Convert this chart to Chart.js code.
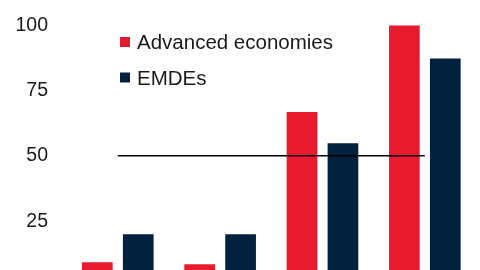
<!DOCTYPE html>
<html>
<head>
<meta charset="utf-8">
<script src="https://cdn.jsdelivr.net/npm/chart.js@4"></script>
<style>
  html, body { margin: 0; padding: 0; background: #fff; overflow: hidden; }
  #wrap { width: 480px; height: 270px; overflow: hidden; }
</style>
</head>
<body>
<div id="wrap"><canvas id="chart" width="480" height="300"></canvas></div>
<script>
// Data (x labels are cropped out of the reference)
const categories = ['Group 1', 'Group 2', 'Group 3', 'Group 4'];
const advanced = [9.3, 8.5, 66.8, 100];
const emdes = [20, 20, 54.8, 87.3];
const threshold = [50, 50, 50, 50];
const yTicks = [0, 25, 50, 75, 100];

const RED = '#E81B2E';
const NAVY = '#01213F';
const FONT = '"Liberation Sans", Arial, sans-serif';

// Legend drawn on the canvas top-left of the plot
const legendPlugin = {
  id: 'cornerLegend',
  afterDraw(chart) {
    const ctx = chart.ctx;
    const items = [
      { label: 'Advanced economies', color: RED, y: 49 },
      { label: 'EMDEs', color: NAVY, y: 84.5 }
    ];
    ctx.save();
    ctx.font = '20.5px ' + FONT;
    ctx.textBaseline = 'alphabetic';
    items.forEach(function(it) {
      ctx.fillStyle = it.color;
      ctx.fillRect(120, it.y - 12, 10, 10);
      ctx.fillStyle = '#1a1a1a';
      ctx.fillText(it.label, 137, it.y);
    });
    ctx.restore();
  }
};

new Chart(document.getElementById('chart'), {
  type: 'bar',
  data: {
    labels: categories,
    datasets: [
      {
        type: 'line',
        label: 'Threshold',
        data: threshold,
        borderColor: '#000',
        borderWidth: 1.5,
        pointRadius: 0,
        fill: false,
        order: 0
      },
      {
        label: 'Advanced economies',
        data: advanced,
        backgroundColor: RED,
        categoryPercentage: 0.8,
        barPercentage: 0.75,
        order: 1
      },
      {
        label: 'EMDEs',
        data: emdes,
        backgroundColor: NAVY,
        categoryPercentage: 0.8,
        barPercentage: 0.75,
        order: 1
      }
    ]
  },
  options: {
    responsive: false,
    animation: false,
    devicePixelRatio: 1,
    layout: { padding: { top: 25.2, right: 4, bottom: 13.5, left: 0 } },
    plugins: {
      legend: { display: false },
      tooltip: { enabled: false }
    },
    scales: {
      x: {
        display: false
      },
      y: {
        min: 0,
        max: 100,
        afterBuildTicks: function(scale) {
          scale.ticks = yTicks.map(function(v) { return { value: v }; });
        },
        afterFit: function(scale) {
          scale.width = 66.6;
          scale.paddingTop = 0;
          scale.paddingBottom = 0;
        },
        border: { display: false },
        grid: { display: false, drawTicks: false },
        ticks: {
          padding: 18.6,
          color: '#1a1a1a',
          font: { family: FONT, size: 19.5 }
        }
      }
    }
  },
  plugins: [legendPlugin]
});
</script>
</body>
</html>
